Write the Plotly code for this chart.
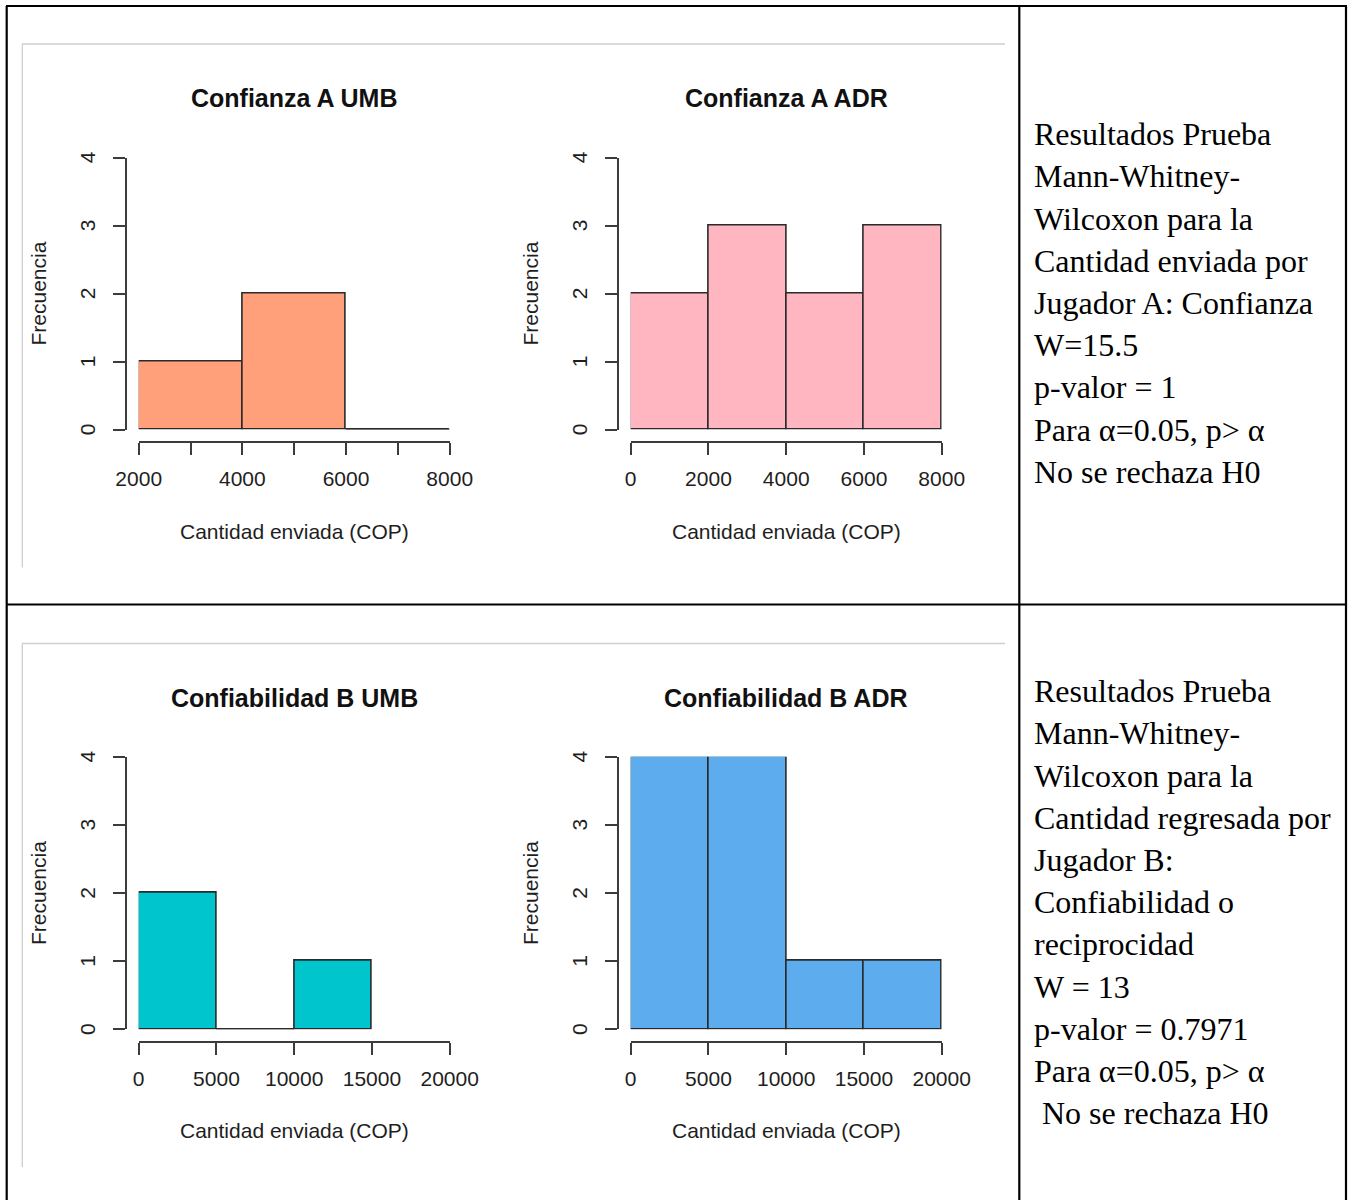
import plotly.graph_objects as go

W, H = 1352, 1200

# ---------------- data ----------------
panel_titles = ["Confianza A UMB", "Confianza A ADR", "Confiabilidad B UMB", "Confiabilidad B ADR"]
breaks_a_umb = [2000, 4000, 6000, 8000]
counts_a_umb = [1, 2, 0]
breaks_a_adr = [0, 2000, 4000, 6000, 8000]
counts_a_adr = [2, 3, 2, 3]
breaks_b_umb = [0, 5000, 10000, 15000]
counts_b_umb = [2, 0, 1]
breaks_b_adr = [0, 5000, 10000, 15000, 20000]
counts_b_adr = [4, 4, 1, 1]

xlims = [[2000, 8000], [0, 8000], [0, 20000], [0, 20000]]
x_tickvals_a_umb = [2000, 3000, 4000, 5000, 6000, 7000, 8000]
x_ticktext_a_umb = ["2000", "", "4000", "", "6000", "", "8000"]
x_tickvals_a_adr = [0, 2000, 4000, 6000, 8000]
x_tickvals_b = [0, 5000, 10000, 15000, 20000]
y_tickvals = [0, 1, 2, 3, 4]

bar_colors = ["#FFA07A", "#FFB6C1", "#00C5CD", "#5CACEE"]
x_label = "Cantidad enviada (COP)"
y_label = "Frecuencia"

text_top = [
    "Resultados Prueba",
    "Mann-Whitney-",
    "Wilcoxon para la",
    "Cantidad enviada por",
    "Jugador A: Confianza",
    "W=15.5",
    "p-valor = 1",
    "Para α=0.05, p> α",
    "No se rechaza H0",
]
text_bottom = [
    "Resultados Prueba",
    "Mann-Whitney-",
    "Wilcoxon para la",
    "Cantidad regresada por",
    "Jugador B:",
    "Confiabilidad o",
    "reciprocidad",
    "W = 13",
    "p-valor = 0.7971",
    "Para α=0.05, p> α",
    "\u00a0No se rechaza H0",
]

# ---------------- layout helpers ----------------
def px(x):
    return x / W

def py(y):
    return 1 - y / H

SANS = "Liberation Sans, Arial, sans-serif"
SERIF = "Liberation Serif, Times New Roman, serif"
INK = "#1e1e1e"
AXC = "#3c3c3c"

# pixel geometry of each panel: (x_left, x_right, y_zero, y_top, yaxis_x, xaxis_y)
panels = [
    (138.7, 449.7, 429.5, 157.5, 125.7, 441.7),
    (630.7, 941.7, 429.5, 157.5, 617.5, 441.7),
    (138.7, 449.7, 1029.3, 756.7, 125.7, 1041.7),
    (630.7, 941.7, 1029.3, 756.7, 617.5, 1041.7),
]
hist_breaks = [breaks_a_umb, breaks_a_adr, breaks_b_umb, breaks_b_adr]
hist_counts = [counts_a_umb, counts_a_adr, counts_b_umb, counts_b_adr]
tickvals_list = [x_tickvals_a_umb, x_tickvals_a_adr, x_tickvals_b, x_tickvals_b]
ticktext_list = [x_ticktext_a_umb, [str(v) for v in x_tickvals_a_adr],
                 [str(v) for v in x_tickvals_b], [str(v) for v in x_tickvals_b]]

fig = go.Figure()
annotations = []
shapes = []

for i in range(4):
    k = "" if i == 0 else str(i + 1)
    xl, xr, y0, y4, yax, xay = panels[i]
    br = hist_breaks[i]
    cn = hist_counts[i]
    centers = [(br[j] + br[j + 1]) / 2 for j in range(len(cn))]
    widths = [br[j + 1] - br[j] for j in range(len(cn))]
    fig.add_trace(go.Bar(
        x=centers, y=cn, width=widths,
        marker=dict(color=bar_colors[i], line=dict(color="#2a2a2a", width=1.6)),
        xaxis="x" + k, yaxis="y" + k, showlegend=False, hoverinfo="x+y",
    ))
    # zero-count bins are drawn as a line on the baseline (as R's hist does)
    for j in range(len(cn)):
        if cn[j] == 0:
            fig.add_trace(go.Scatter(
                x=[br[j], br[j + 1]], y=[0, 0], mode="lines",
                line=dict(color="#2a2a2a", width=1.6),
                xaxis="x" + k, yaxis="y" + k, showlegend=False, hoverinfo="skip",
            ))
    xa = dict(
        domain=[px(xl), px(xr)], range=xlims[i], anchor="free", position=py(xay),
        showline=True, linecolor=AXC, linewidth=1.8,
        ticks="outside", ticklen=12, tickwidth=1.8, tickcolor=AXC,
        tickvals=tickvals_list[i], ticktext=ticktext_list[i],
        tickfont=dict(family=SANS, size=21, color=INK),
        ticklabelstandoff=6,
        showgrid=False, zeroline=False, fixedrange=True, automargin=False,
    )
    ya = dict(
        domain=[py(y0), py(y4)], range=[0, 4], anchor="free", position=px(yax),
        side="left",
        showline=True, linecolor=AXC, linewidth=1.8,
        ticks="outside", ticklen=12, tickwidth=1.8, tickcolor=AXC,
        tickvals=y_tickvals, tickangle=-90,
        tickfont=dict(family=SANS, size=21, color=INK),
        ticklabelstandoff=9, ticklabelshift=3,
        showgrid=False, zeroline=False, fixedrange=True, automargin=False,
    )
    fig.update_layout(**{"xaxis" + k: xa, "yaxis" + k: ya})

    cx = (xl + xr) / 2
    cy = (y0 + y4) / 2
    top_off = 0 if i < 2 else 599.5
    annotations.append(dict(text="<b>" + panel_titles[i] + "</b>", x=px(cx), y=py(98 + top_off),
                            xref="paper", yref="paper", xanchor="center", yanchor="middle",
                            showarrow=False, font=dict(family=SANS, size=25, color="#111")))
    annotations.append(dict(text=x_label, x=px(cx), y=py(531 + top_off),
                            xref="paper", yref="paper", xanchor="center", yanchor="middle",
                            showarrow=False, font=dict(family=SANS, size=21, color=INK)))
    annotations.append(dict(text=y_label, x=px(38 if i % 2 == 0 else 530), y=py(cy),
                            xref="paper", yref="paper", xanchor="center", yanchor="middle",
                            textangle=-90,
                            showarrow=False, font=dict(family=SANS, size=21, color=INK)))

# right-hand text column
FS = 32
pitch = 42.2
for lines, base0 in ((text_top, 145.0), (text_bottom, 702.0)):
    for j, t in enumerate(lines):
        base = base0 + j * pitch
        annotations.append(dict(text=t, x=px(1032), y=py(base - 0.3375 * FS),
                                xref="paper", yref="paper", xanchor="left", yanchor="middle",
                                showarrow=False, font=dict(family=SERIF, size=FS, color="#000")))

# table borders
def line(x0, y0, x1, y1, color="#000", width=2.2):
    shapes.append(dict(type="line", xref="paper", yref="paper",
                       x0=px(x0), y0=py(y0), x1=px(x1), y1=py(y1),
                       line=dict(color=color, width=width)))

line(6.7, 6, 6.7, 1200)
line(6, 6, 1347, 6)
line(1346, 6, 1346, 1200)
line(1019.3, 6, 1019.3, 1200)
line(6, 604.5, 1347, 604.5)
# screenshot frames (light gray)
for off in (0, 599.5):
    line(22, 44 + off, 1005, 44 + off, color="#cfcfcf", width=1.3)
    line(22.3, 44 + off, 22.3, 567.5 + off, color="#cfcfcf", width=1.3)

fig.update_layout(
    width=W, height=H, autosize=False,
    margin=dict(l=0, r=0, t=0, b=0, pad=0, autoexpand=False),
    paper_bgcolor="white", plot_bgcolor="white",
    annotations=annotations, shapes=shapes,
    showlegend=False, bargap=0,
)

fig.write_html("out.html", config={"displayModeBar": False},
               post_script="document.body.style.margin='0';document.body.style.overflow='hidden';")
